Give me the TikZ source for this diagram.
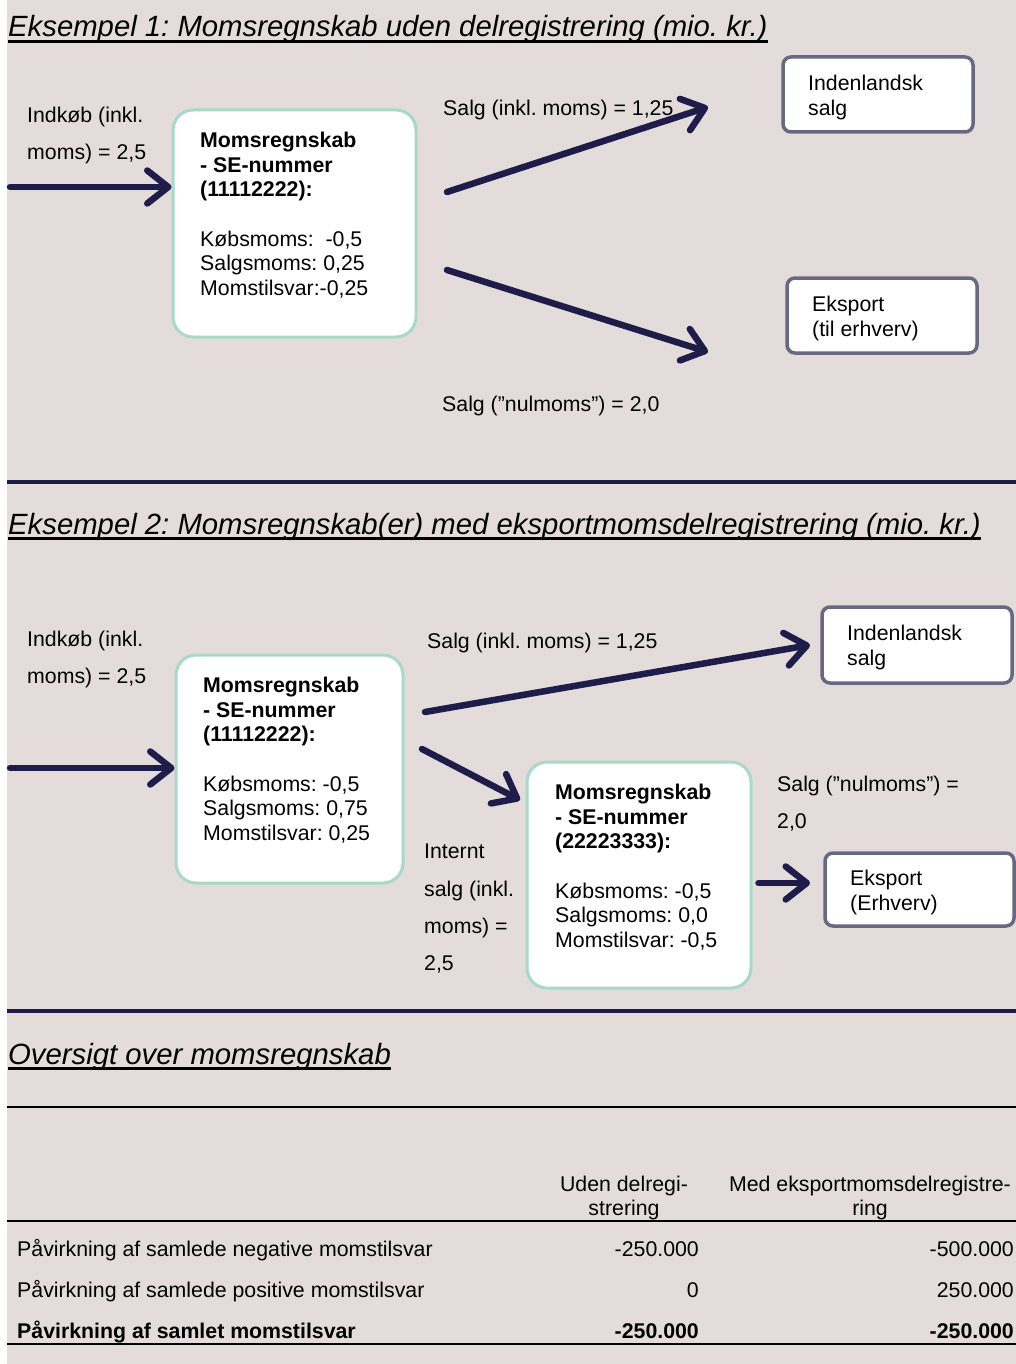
\documentclass[tikz,border=0pt]{standalone}
\usepackage{fontspec}
\setmainfont{Liberation Sans}
\usetikzlibrary{arrows.meta}
\definecolor{bgc}{HTML}{E3DCDB}
\definecolor{navy}{HTML}{1E1C48}
\definecolor{mint}{HTML}{A8D9C8}
\definecolor{grayb}{HTML}{676882}
\tikzset{
  txt/.style={font=\fontsize{21.3}{24.6}\selectfont, inner sep=0pt, align=left, text=black},
  lbl/.style={font=\fontsize{21.3}{37.2}\selectfont, inner sep=0pt, align=left, text=black},
  hdr/.style={font=\fontsize{21.3}{24}\selectfont, inner sep=0pt, align=center, text=black},
  ttl/.style={font=\fontsize{29.3}{34}\selectfont\itshape, inner sep=0pt, text=black},
  flow/.style={draw=navy, line width=6.5pt, line cap=round, -{Straight Barb[length=21pt,width=33pt,round]}},
  mbox/.style={draw=mint, line width=3pt, fill=white, rounded corners=20pt, inner sep=0pt},
  gbox/.style={draw=grayb, line width=3.5pt, fill=white, rounded corners=8pt, inner sep=0pt},
  sepline/.style={draw=navy, line width=3.5pt},
  rulel/.style={draw=black, line width=2.6pt},
  uline/.style={draw=black, line width=2.4pt},
}
\begin{document}
\frenchspacing
\begin{tikzpicture}[x=1pt,y=-1pt]
\useasboundingbox (0,0) rectangle (1016,1364);
\clip (0,0) rectangle (1016,1364);
\fill[white] (0,0) rectangle (7,1364);
\fill[bgc] (7,0) rectangle (1016,1364);

% ---------- Example 1 ----------
\node[ttl, anchor=base west] (t1) at (8,37) {Eksempel 1: Momsregnskab uden delregistrering (mio. kr.)};
\draw[uline] ([yshift=-4.5pt]t1.base west) -- ([yshift=-4.5pt]t1.base east);

\node[mbox, minimum width=243pt, minimum height=227pt] (bA) at (294.5,223.5) {};
\node[txt, anchor=north west] (bAt) at (200,132) {\textbf{Momsregnskab}\\\textbf{- SE-nummer}\\\textbf{(11112222):}\\[24.6pt]Købsmoms:\ \ -0,5\\Salgsmoms: 0,25\\Momstilsvar:-0,25};

\node[gbox, minimum width=190pt, minimum height=75pt] (iA) at (878,94.5) {};
\node[txt, anchor=north west] (iAt) at (808,75) {Indenlandsk\\salg};
\node[gbox, minimum width=190pt, minimum height=75pt] (eA) at (882,315.5) {};
\node[txt, anchor=north west] (eAt) at (812,296) {Eksport\\(til erhverv)};

\node[lbl, anchor=north west] (inA) at (27,107) {Indkøb (inkl.\\moms) = 2,5};
\coordinate (a0) at (10,187);
\draw[flow] (a0) -- (a0 -| bA.west);

\coordinate (a1s) at (447,192);
\coordinate (a1e) at (708,107);
\draw[flow] (a1s) -- (a1e);
\node[txt, anchor=base west] (sA) at (443,115.5) {Salg (inkl. moms) = 1,25};

\coordinate (a2s) at (447,270);
\coordinate (a2e) at (708,352);
\draw[flow] (a2s) -- (a2e);
\node[txt, anchor=base west] (nA) at (442,411.5) {Salg (”nulmoms”) = 2,0};

\draw[sepline] (7,482) -- (1016,482);

% ---------- Example 2 ----------
\node[ttl, anchor=base west] (t2) at (8,534) {Eksempel 2: Momsregnskab(er) med eksportmomsdelregistrering (mio. kr.)};
\draw[uline] ([yshift=-4.5pt]t2.base west) -- ([yshift=-4.5pt]t2.base east);

\node[lbl, anchor=north west] (inB) at (27,631) {Indkøb (inkl.\\moms) = 2,5};

\node[mbox, minimum width=227pt, minimum height=228pt] (bB) at (289.5,769) {};
\node[txt, anchor=north west] (bBt) at (203,677) {\textbf{Momsregnskab}\\\textbf{- SE-nummer}\\\textbf{(11112222):}\\[24.6pt]Købsmoms: -0,5\\Salgsmoms: 0,75\\Momstilsvar: 0,25};

\node[gbox, minimum width=190pt, minimum height=76pt] (iB) at (917,645) {};
\node[txt, anchor=north west] (iBt) at (847,625) {Indenlandsk\\salg};

\node[mbox, minimum width=224pt, minimum height=226pt] (bC) at (639,875) {};
\node[txt, anchor=north west] (bCt) at (555,784) {\textbf{Momsregnskab}\\\textbf{- SE-nummer}\\\textbf{(22223333):}\\[24.6pt]Købsmoms: -0,5\\Salgsmoms: 0,0\\Momstilsvar: -0,5};

\node[gbox, minimum width=189pt, minimum height=73pt] (eB) at (919.5,889.5) {};
\node[txt, anchor=north west] (eBt) at (850,870) {Eksport\\(Erhverv)};

\coordinate (b0) at (10,768);
\draw[flow] (b0) -- (b0 -| bB.west);

\coordinate (b1s) at (425,712);
\coordinate (b1e) at (810,645);
\draw[flow] (b1s) -- (b1e);
\node[txt, anchor=base west] (sB) at (427,648.5) {Salg (inkl. moms) = 1,25};

\coordinate (b2s) at (422,749);
\coordinate (b2e) at (520,800);
\draw[flow] (b2s) -- (b2e);
\node[lbl, anchor=north west] (intB) at (424,844) {Internt\\salg (inkl.\\moms) =\\2,5};

\node[lbl, anchor=north west] (nB) at (777,776) {Salg (”nulmoms”) =\\2,0};
\coordinate (b3s) at (bC.east |- 0,883);
\coordinate (b3e) at (810,883);
\draw[flow] ([xshift=6pt]b3s) -- (b3e);

\draw[sepline] (7,1011) -- (1016,1011);

% ---------- Overview ----------
\node[ttl, anchor=base west] (t3) at (8,1064) {Oversigt over momsregnskab};
\draw[uline] ([yshift=-4.5pt]t3.base west) -- ([yshift=-4.5pt]t3.base east);

\draw[rulel] (7,1107) -- (1016,1107);
\node[hdr, anchor=north] (h1) at (624,1176) {Uden delregi-\\strering};
\node[hdr, anchor=north] (h2) at (870,1176) {Med eksportmomsdelregistre-\\ring};
\draw[rulel] (7,1221) -- (1016,1221);

\node[txt, anchor=base west] (r1) at (17,1256) {Påvirkning af samlede negative momstilsvar};
\node[txt, anchor=base east] (r1a) at (699,1256) {-250.000};
\node[txt, anchor=base east] (r1b) at (1014,1256) {-500.000};
\node[txt, anchor=base west] (r2) at (17,1297) {Påvirkning af samlede positive momstilsvar};
\node[txt, anchor=base east] (r2a) at (699,1297) {0};
\node[txt, anchor=base east] (r2b) at (1014,1297) {250.000};
\node[txt, anchor=base west, font=\fontsize{21.3}{24.6}\selectfont\bfseries] (r3) at (17,1338) {Påvirkning af samlet momstilsvar};
\node[txt, anchor=base east, font=\fontsize{21.3}{24.6}\selectfont\bfseries] (r3a) at (699,1338) {-250.000};
\node[txt, anchor=base east, font=\fontsize{21.3}{24.6}\selectfont\bfseries] (r3b) at (1014,1338) {-250.000};
\draw[rulel] (7,1344) -- (1016,1344);
\end{tikzpicture}
\end{document}
